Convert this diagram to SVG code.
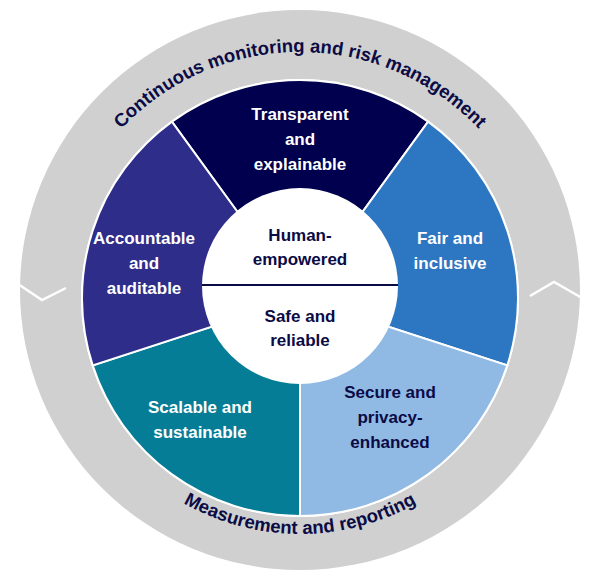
<svg xmlns="http://www.w3.org/2000/svg" width="600" height="584" viewBox="0 0 600 584">
<style>
.t{font-family:"Liberation Sans",Arial,sans-serif;font-weight:bold;font-size:17px;text-anchor:middle}
.r{font-size:18.5px}
.w{fill:#fff}.d{fill:#0b0b45}
.seg{stroke:#fff;stroke-width:2}
</style>
<defs>
<path id="top" d="M 54 298 A 246 246 0 0 1 546 298"/>
<path id="bot" d="M 64 298 A 236 236 0 0 0 536 298"/>
</defs>
<g id="ring">
<circle cx="300" cy="290" r="280" fill="#d0d0d0"/>
<polyline points="18,284 42,300 66,288" fill="none" stroke="#fff" stroke-width="2.5"/>
<polyline points="530,296 554,282 582,298" fill="none" stroke="#fff" stroke-width="2.5"/>
<text class="t r d"><textPath href="#top" startOffset="50%">Continuous monitoring and risk management</textPath></text>
<text class="t r d"><textPath href="#bot" startOffset="50%">Measurement and reporting</textPath></text>
</g>
<circle cx="300" cy="298" r="219" fill="#fff"/>
<g id="transparent">
<path class="seg" d="M300 298 L171.9 121.6 A218 218 0 0 1 428.1 121.6 Z" fill="#00004f"/>
<text class="t w" x="300" y="120">Transparent</text><text class="t w" x="300" y="145">and</text><text class="t w" x="300" y="170">explainable</text>
</g>
<g id="fair">
<path class="seg" d="M300 298 L428.1 121.6 A218 218 0 0 1 507.3 365.4 Z" fill="#2d77c2"/>
<text class="t w" x="450" y="244">Fair and</text><text class="t w" x="450" y="269">inclusive</text>
</g>
<g id="secure">
<path class="seg" d="M300 298 L507.3 365.4 A218 218 0 0 1 300 516 Z" fill="#90b9e4"/>
<text class="t d" x="390" y="398">Secure and</text><text class="t d" x="390" y="423">privacy-</text><text class="t d" x="390" y="448">enhanced</text>
</g>
<g id="scalable">
<path class="seg" d="M300 298 L300 516 A218 218 0 0 1 92.7 365.4 Z" fill="#057d96"/>
<text class="t w" x="200" y="413">Scalable and</text><text class="t w" x="200" y="438">sustainable</text>
</g>
<g id="accountable">
<path class="seg" d="M300 298 L92.7 365.4 A218 218 0 0 1 171.9 121.6 Z" fill="#2e2e8a"/>
<text class="t w" x="144" y="244">Accountable</text><text class="t w" x="144" y="269">and</text><text class="t w" x="144" y="294">auditable</text>
</g>
<g id="center">
<circle cx="300" cy="286" r="98" fill="#fff"/>
<line x1="202" y1="285" x2="398" y2="285" stroke="#0b0b45" stroke-width="2"/>
<text class="t d" x="300" y="241">Human-</text><text class="t d" x="300" y="265">empowered</text>
<text class="t d" x="300" y="322">Safe and</text><text class="t d" x="300" y="346">reliable</text>
</g>
</svg>
